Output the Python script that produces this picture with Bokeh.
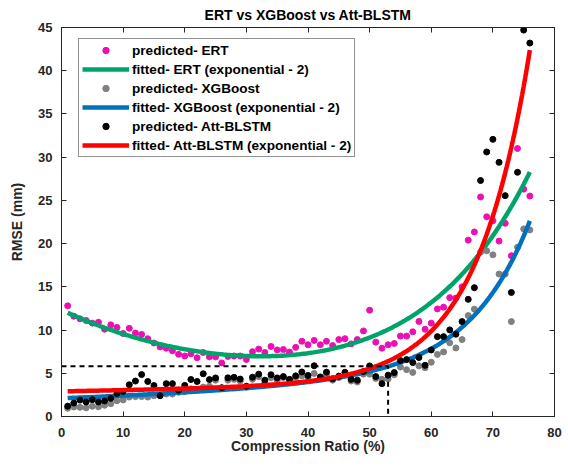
import numpy as np
from bokeh.plotting import figure
from bokeh.models import Range1d, LinearAxis, Legend, LegendItem, ColumnDataSource
from bokeh.embed import file_html
from bokeh.resources import INLINE

# ---------------- data ----------------
ratio = list(range(1, 77))

rmse_ert = [12.8, 11.6, 11.3, 11.1, 10.8, 10.9, 10.1, 10.6, 10.3, 9.6,
            10.2, 9.65, 9.5, 9.0, 8.5, 8.05, 7.9, 7.6, 7.2, 7.0,
            7.25, 6.8, 7.4, 6.9, 6.9, 6.2, 6.95, 7.0, 7.0, 6.6,
            7.5, 7.8, 7.4, 8.1, 7.7, 7.75, 7.45, 8.0, 8.7, 8.3,
            8.8, 8.3, 8.7, 8.2, 8.9, 9.0, 8.4, 8.9, 9.9, 12.3,
            8.6, 7.9, 8.3, 8.45, 9.3, 9.3, 9.8, 11.0, 10.1, 10.8,
            12.45, 12.65, 13.75, 13.7, 15.0, 20.4, 21.35, 25.4, 23.1, 22.65,
            20.3, 22.35, 18.6, 31.0, 26.3, 25.5]

rmse_xgb = [0.95, 1.1, 1.06, 1.0, 1.18, 1.13, 1.3, 1.48, 1.82, 1.92,
            2.25, 2.3, 2.3, 2.25, 2.4, 2.45, 2.6, 2.6, 2.8, 2.9,
            3.2, 3.1, 3.4, 3.5, 4.2, 3.3, 4.2, 4.3, 4.1, 3.4,
            4.3, 4.6, 3.9, 4.5, 4.2, 4.5, 4.2, 4.5, 4.7, 4.5,
            4.98, 4.4, 4.8, 4.2, 4.5, 4.8, 4.1, 4.0, 4.9, 4.9,
            4.4, 4.3, 4.35, 4.82, 5.72, 5.42, 5.1, 5.86, 5.65, 6.28,
            7.18, 7.47, 8.52, 7.93, 8.9, 11.67, 12.42, 19.0, 19.17, 18.7,
            16.48, 16.48, 10.98, 19.58, 21.7, 21.58]

rmse_blstm = [1.2, 1.55, 1.9, 1.68, 1.95, 1.68, 1.8, 2.1, 2.66, 2.9,
              3.67, 4.1, 4.85, 4.05, 3.58, 2.4, 3.8, 3.8, 3.05, 3.6,
              4.28, 4.05, 4.94, 4.27, 4.46, 3.33, 4.47, 4.53, 4.33, 3.5,
              4.55, 4.9, 4.2, 4.83, 4.46, 4.62, 4.3, 4.7, 5.15, 4.75,
              5.87, 4.58, 5.13, 4.37, 4.67, 5.12, 4.3, 4.2, 5.2, 5.85,
              4.62, 3.8, 4.78, 5.08, 6.47, 6.58, 6.24, 6.82, 5.92, 7.7,
              9.24, 9.24, 10.02, 9.52, 10.98, 13.55, 14.9, 27.3, 30.6, 32.06,
              29.4, 25.55, 14.35, 28.25, 44.7, 43.2]

# exponential-2 fit parameters  f(x) = a*exp(b*x) + c*exp(d*x)
fit_ert = [0.414, 0.055, 11.92, -0.030]
fit_xgb = [0.00574, 0.105, 2.10, 0.0135]
fit_blstm = [0.00613, 0.115, 2.90, 0.0045]
fit_range = [1, 76]

cutoff_ratio = 53
cutoff_rmse = 5.8

x_ticks = list(range(0, 81, 10))
y_ticks = list(range(0, 46, 5))

# ---------------- styling ----------------
FONT = "Liberation Sans"
AX = "#262626"
PINK = "#EC10B4"
GRAY = "#808080"
GREEN = "#00A36A"
BLUE = "#0072BD"
RED = "#FF0000"


def exp2(params, x):
    a, b, c, d = params
    return a * np.exp(b * x) + c * np.exp(d * x)


xs = np.linspace(fit_range[0], fit_range[1], 300)

p = figure(width=568, height=466, x_range=Range1d(0, 80), y_range=Range1d(0, 45),
           output_backend="svg", toolbar_location=None,
           min_border_left=61, min_border_right=14, min_border_top=27, min_border_bottom=50)
p.background_fill_color = "white"
p.border_fill_color = "white"
p.outline_line_color = AX
p.xgrid.visible = False
p.ygrid.visible = False

p.title.text = "ERT vs XGBoost vs Att-BLSTM"
p.title.align = "center"
p.title.text_font = FONT
p.title.text_font_size = "14px"
p.title.text_font_style = "bold"
p.title.text_color = "black"
p.title.standoff = 9

src = ColumnDataSource(dict(x=ratio, ert=rmse_ert, xgb=rmse_xgb, blstm=rmse_blstm))
fit_src = ColumnDataSource(dict(x=xs, ert=exp2(fit_ert, xs), xgb=exp2(fit_xgb, xs),
                                blstm=exp2(fit_blstm, xs)))

r1 = p.scatter("x", "ert", source=src, size=6, color=PINK)
r2 = p.line("x", "ert", source=fit_src, line_width=4.5, color=GREEN)
r3 = p.scatter("x", "xgb", source=src, size=6, color=GRAY)
r4 = p.line("x", "xgb", source=fit_src, line_width=4.5, color=BLUE)
r5 = p.scatter("x", "blstm", source=src, size=6, color="black")
r6 = p.line("x", "blstm", source=fit_src, line_width=4.5, color=RED)

p.line([0, cutoff_ratio, cutoff_ratio], [cutoff_rmse, cutoff_rmse, 0],
       line_dash="5 4", line_width=2, color="black")

for ax in (p.xaxis[0], p.yaxis[0]):
    ax.major_tick_in = 5
    ax.major_tick_out = 0
    ax.minor_tick_line_color = None
    ax.axis_line_color = AX
    ax.major_tick_line_color = AX
    ax.major_label_text_font = FONT
    ax.major_label_text_font_style = "bold"
    ax.major_label_text_font_size = "13px"
    ax.major_label_text_color = AX
    ax.axis_label_text_font = FONT
    ax.axis_label_text_font_style = "bold"
    ax.axis_label_text_font_size = "14px"
    ax.axis_label_text_color = AX

p.xaxis.ticker = x_ticks
p.yaxis.ticker = y_ticks
p.xaxis.axis_label = "Compression Ratio (%)"
p.yaxis.axis_label = "RMSE (mm)"
p.xaxis.major_label_standoff = 11
p.yaxis.major_label_standoff = 9
p.xaxis.axis_label_standoff = -2
p.yaxis.axis_label_standoff = 10

# box ticks on top and right (no labels)
for loc, ticks in (("above", x_ticks), ("right", y_ticks)):
    ax = LinearAxis(ticker=ticks)
    ax.major_tick_in = 5
    ax.major_tick_out = 0
    ax.minor_tick_line_color = None
    ax.axis_line_color = AX
    ax.major_tick_line_color = AX
    ax.major_label_text_font_size = "1px"
    ax.major_label_text_color = None
    ax.major_label_standoff = 0
    p.add_layout(ax, loc)

legend = Legend(items=[
    LegendItem(label="predicted- ERT", renderers=[r1]),
    LegendItem(label="fitted- ERT (exponential - 2)", renderers=[r2]),
    LegendItem(label="predicted- XGBoost", renderers=[r3]),
    LegendItem(label="fitted- XGBoost (exponential - 2)", renderers=[r4]),
    LegendItem(label="predicted- Att-BLSTM", renderers=[r5]),
    LegendItem(label="fitted- Att-BLSTM (exponential - 2)", renderers=[r6]),
], location=(17, 259))
legend.label_text_font = FONT
legend.label_text_font_style = "bold"
legend.label_text_font_size = "13.6px"
legend.label_text_color = "black"
legend.glyph_width = 47
legend.glyph_height = 16
legend.label_height = 16
legend.spacing = 3
legend.padding = 3
legend.label_standoff = 3
legend.margin = 0
legend.border_line_color = AX
legend.border_line_width = 1
legend.background_fill_alpha = 1
p.add_layout(legend)

open("out.html", "w").write(file_html(p, INLINE))
